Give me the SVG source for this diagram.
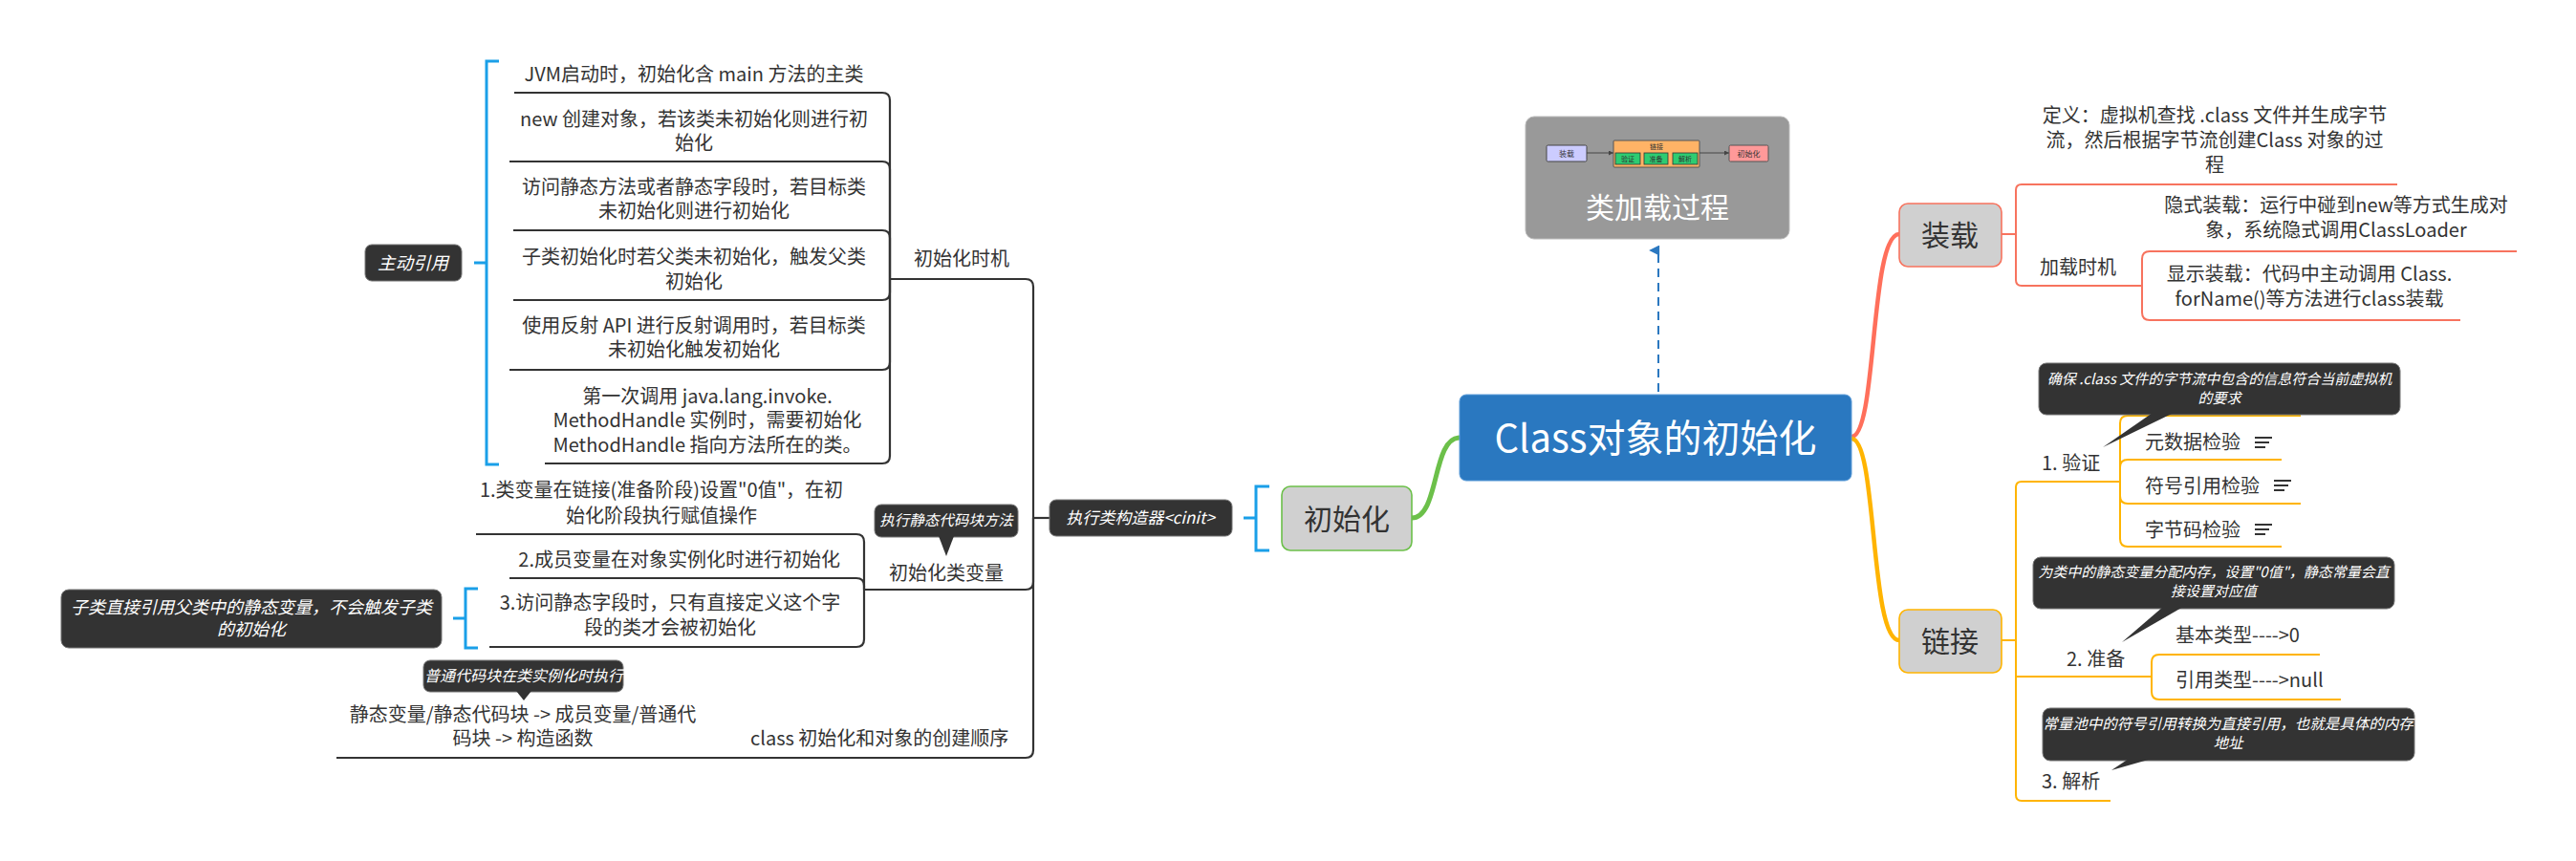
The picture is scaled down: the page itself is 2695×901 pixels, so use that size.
<svg xmlns="http://www.w3.org/2000/svg" width="2695" height="901" viewBox="0 0 2695 901">
<style>
text{font-family:"Noto Sans CJK SC","Noto Sans",sans-serif;fill:#333}
.t20{font-size:20px}
.mid{text-anchor:middle}
.end{text-anchor:end}
.big{font-size:30px;text-anchor:middle}
.tip{fill:#333;stroke:#777;stroke-width:1}
.tipt{fill:#fff;font-style:italic;text-anchor:middle}
.dk{fill:none;stroke:#333;stroke-width:2.2}
.rd{fill:none;stroke:#F7735E;stroke-width:2}
.or{fill:none;stroke:#FFB400;stroke-width:2}
.br{fill:none;stroke:#1A9FE8;stroke-width:3}
.node{fill:#D0D0D0;stroke-width:1.6}
.icon{stroke:#333;stroke-width:2}
.mini{font-size:7px;text-anchor:middle;fill:#333}
</style>
<defs>
<marker id="ah" viewBox="0 0 10 10" refX="5" refY="9" markerWidth="11" markerHeight="13" orient="auto" markerUnits="userSpaceOnUse">
<path d="M0,10 L5,0 L10,10 Z" fill="#2B78C0"/>
</marker>
<marker id="ma" viewBox="0 0 6 6" refX="6" refY="3" markerWidth="5" markerHeight="5" orient="auto" markerUnits="userSpaceOnUse">
<path d="M0,0 L6,3 L0,6 Z" fill="#444"/>
</marker>
</defs>
<rect width="2695" height="901" fill="#fff"/>

<g id="connectors">
<path d="M1527,458 C1498,458 1506,542 1477,542" fill="none" stroke="#6CC04A" stroke-width="5"/>
<path d="M1937,457 C1964,457 1956,245 1987,245" fill="none" stroke="#FF6F5B" stroke-width="4.5"/>
<path d="M1937,459 C1964,459 1956,670 1987,670" fill="none" stroke="#FFB400" stroke-width="4.5"/>
<path d="M1735,410 V262" fill="none" stroke="#2B78C0" stroke-width="2" stroke-dasharray="9 6" marker-end="url(#ah)"/>
<path class="dk" d="M1098,542 H1081"/>
<path class="dk" d="M931,292 H1073 Q1081,292 1081,300 V542"/>
<path class="dk" d="M904,617 H1073 Q1081,617 1081,609 V542"/>
<path class="dk" d="M352,793 H1073 Q1081,793 1081,785 V542"/>
<path class="dk" d="M538,97 H923 Q931,97 931,105 V292"/>
<path class="dk" d="M533,169 H923 Q931,169 931,177 V292"/>
<path class="dk" d="M537,241 H923 Q931,241 931,249 V292"/>
<path class="dk" d="M537,314 H923 Q931,314 931,306 V292"/>
<path class="dk" d="M533,387 H923 Q931,387 931,379 V292"/>
<path class="dk" d="M570,485 H923 Q931,485 931,477 V292"/>
<path class="dk" d="M498,559 H896 Q904,559 904,567 V617"/>
<path class="dk" d="M533,605 H896 Q904,605 904,613 V617"/>
<path class="dk" d="M512,677 H896 Q904,677 904,669 V617"/>
<path class="br" d="M522,64 H509 V486 H522 M496,275 H509"/>
<path class="br" d="M500,616 H487 V678 H500 M474,647 H487"/>
<path class="br" d="M1328,509 H1314 V576 H1328 M1301,542 H1314"/>
<path class="rd" d="M2094,245 H2109 V199 Q2109,193 2115,193 H2508"/>
<path class="rd" d="M2109,245 V293 Q2109,299 2115,299 H2241"/>
<path class="rd" d="M2241,299 V271 Q2241,263 2249,263 H2633"/>
<path class="rd" d="M2241,299 V327 Q2241,335 2249,335 H2574"/>
<path class="or" d="M2094,670 H2109 V510 Q2109,504 2115,504 H2218"/>
<path class="or" d="M2109,670 V832 Q2109,838 2115,838 H2208"/>
<path class="or" d="M2109,708 H2251"/>
<path class="or" d="M2218,504 V443 Q2218,435 2226,435 H2407"/>
<path class="or" d="M2218,504 V489 Q2218,481 2226,481 H2387"/>
<path class="or" d="M2218,504 V519 Q2218,527 2226,527 H2407"/>
<path class="or" d="M2218,504 V564 Q2218,572 2226,572 H2387"/>
<path class="or" d="M2251,708 V693 Q2251,685 2259,685 H2427"/>
<path class="or" d="M2251,708 V724 Q2251,732 2259,732 H2449"/>
</g>

<g id="central">
<rect x="1527" y="413" width="410" height="90" rx="7" fill="#2A78C0" stroke="#5A9BD8" stroke-width="1"/>
<text x="1732" y="473" style="font-size:40px;text-anchor:middle;fill:#fff">Class对象的初始化</text>
</g>

<g id="class-loading-image">
<rect x="1596" y="122" width="276" height="128" rx="9" fill="#999" stroke="#bbb" stroke-width="1"/>
<rect x="1618" y="152" width="42" height="17" rx="1.5" fill="#CCCCFF" stroke="#444" stroke-width="1"/>
<text class="mini" x="1639" y="163.5" style="font-size:8px">装载</text>
<path d="M1660,160 H1688" stroke="#444" stroke-width="1" marker-end="url(#ma)"/>
<rect x="1688" y="147" width="90" height="28" rx="1" fill="#FFB366" stroke="#555" stroke-width="1"/>
<text class="mini" x="1733" y="156">链接</text>
<rect x="1690" y="160" width="26" height="12" fill="#2ECC71" stroke="#333" stroke-width="0.8"/>
<rect x="1720" y="160" width="25" height="12" fill="#2ECC71" stroke="#333" stroke-width="0.8"/>
<rect x="1750" y="160" width="26" height="12" fill="#2ECC71" stroke="#333" stroke-width="0.8"/>
<text class="mini" x="1703" y="169">验证</text>
<text class="mini" x="1732.5" y="169">准备</text>
<text class="mini" x="1763" y="169">解析</text>
<path d="M1778,160 H1809" stroke="#444" stroke-width="1" marker-end="url(#ma)"/>
<rect x="1809" y="152" width="41" height="17" rx="1.5" fill="#FF9999" stroke="#555" stroke-width="1"/>
<text class="mini" x="1829.5" y="163.5" style="font-size:8px">初始化</text>
<text x="1734" y="228" style="font-size:30px;text-anchor:middle;fill:#fff">类加载过程</text>
</g>

<g id="init-node">
<rect class="node" x="1341" y="509" width="136" height="67" rx="9" stroke="#6CC04A"/>
<text class="big" x="1409" y="554">初始化</text>
</g>

<g id="cinit">
<rect class="tip" x="1098" y="523" width="191" height="38" rx="7"/>
<text class="tipt" x="1193" y="548" style="font-size:17px">执行类构造器&lt;cinit&gt;</text>
</g>

<g id="init-timing">
<text class="t20" x="956" y="278">初始化时机</text>
</g>

<g id="active-ref">
<rect class="tip" x="382" y="256" width="101" height="38" rx="7"/>
<text class="tipt" x="432" y="282" style="font-size:18.5px">主动引用</text>
</g>

<g id="t1"><text class="t20 mid" x="726" y="85">JVM启动时，初始化含 main 方法的主类</text></g>
<g id="t2"><text class="t20 mid" x="726" y="132">new 创建对象，若该类未初始化则进行初</text><text class="t20 mid" x="726" y="157">始化</text></g>
<g id="t3"><text class="t20 mid" x="726" y="203">访问静态方法或者静态字段时，若目标类</text><text class="t20 mid" x="726" y="228">未初始化则进行初始化</text></g>
<g id="t4"><text class="t20 mid" x="726" y="276">子类初始化时若父类未初始化，触发父类</text><text class="t20 mid" x="726" y="302">初始化</text></g>
<g id="t5"><text class="t20 mid" x="726" y="348">使用反射 API 进行反射调用时，若目标类</text><text class="t20 mid" x="726" y="373">未初始化触发初始化</text></g>
<g id="t6"><text class="t20 mid" x="740" y="422">第一次调用 java.lang.invoke.</text><text class="t20 mid" x="740" y="447">MethodHandle 实例时，需要初始化</text><text class="t20 mid" x="740" y="473">MethodHandle 指向方法所在的类。</text></g>

<g id="init-var">
<text class="t20" x="930" y="607">初始化类变量</text>
<rect class="tip" x="915" y="528" width="150" height="34" rx="7"/>
<path d="M982,561 L998,561 L990,582 Z" fill="#333"/>
<text class="tipt" x="990" y="550" style="font-size:15.5px">执行静态代码块方法</text>
</g>

<g id="v1"><text class="t20 mid" x="692" y="520">1.类变量在链接(准备阶段)设置"0值"，在初</text><text class="t20 mid" x="692" y="547">始化阶段执行赋值操作</text></g>
<g id="v2"><text class="t20 end" x="879" y="593">2.成员变量在对象实例化时进行初始化</text></g>
<g id="v3"><text class="t20 mid" x="701" y="638">3.访问静态字段时，只有直接定义这个字</text><text class="t20 mid" x="701" y="664">段的类才会被初始化</text></g>

<g id="subclass-note">
<rect class="tip" x="64" y="617" width="398" height="61" rx="8"/>
<text class="tipt" x="263" y="642" style="font-size:18px">子类直接引用父类中的静态变量，不会触发子类</text>
<text class="tipt" x="263" y="665" style="font-size:18px">的初始化</text>
</g>

<g id="order">
<text class="t20" x="785" y="780">class 初始化和对象的创建顺序</text>
</g>

<g id="order-child">
<rect class="tip" x="443" y="691" width="209" height="33" rx="7"/>
<path d="M540,723 L556,723 L548,733 Z" fill="#333"/>
<text class="tipt" x="548" y="713" style="font-size:16px">普通代码块在类实例化时执行</text>
<text class="t20 mid" x="547" y="755">静态变量/静态代码块 -&gt; 成员变量/普通代</text>
<text class="t20 mid" x="547" y="780">码块 -&gt; 构造函数</text>
</g>

<g id="load-node">
<rect class="node" x="1987" y="213" width="107" height="66" rx="9" stroke="#F7735E"/>
<text class="big" x="2040" y="257">装载</text>
</g>
<g id="load-def">
<text class="t20 mid" x="2317" y="128">定义：虚拟机查找 .class 文件并生成字节</text>
<text class="t20 mid" x="2317" y="154">流，然后根据字节流创建Class 对象的过</text>
<text class="t20 mid" x="2317" y="180">程</text>
</g>
<g id="load-timing"><text class="t20" x="2134" y="287">加载时机</text></g>
<g id="implicit">
<text class="t20 mid" x="2444" y="222">隐式装载：运行中碰到new等方式生成对</text>
<text class="t20 mid" x="2444" y="248">象，系统隐式调用ClassLoader</text>
</g>
<g id="explicit">
<text class="t20 mid" x="2416" y="294">显示装载：代码中主动调用 Class.</text>
<text class="t20 mid" x="2416" y="320">forName()等方法进行class装载</text>
</g>

<g id="link-node">
<rect class="node" x="1987" y="638" width="107" height="66" rx="9" stroke="#FFB400"/>
<text class="big" x="2040" y="682">链接</text>
</g>

<g id="verify">
<text class="t20" x="2136" y="492">1. 验证</text>
<rect class="tip" x="2133" y="380" width="378" height="54" rx="8"/>
<path d="M2252,432 L2274,432 L2200,468 Z" fill="#333"/>
<text class="tipt" x="2322" y="402" style="font-size:15px">确保 .class 文件的字节流中包含的信息符合当前虚拟机</text>
<text class="tipt" x="2322" y="422" style="font-size:15px">的要求</text>
</g>
<g id="v-meta"><text class="t20" x="2244" y="470">元数据检验</text><path class="icon" d="M2359,458 H2377 M2359,463 H2374 M2359,468 H2370"/></g>
<g id="v-sym"><text class="t20" x="2244" y="516">符号引用检验</text><path class="icon" d="M2379,503 H2397 M2379,508 H2394 M2379,513 H2390"/></g>
<g id="v-byte"><text class="t20" x="2244" y="562">字节码检验</text><path class="icon" d="M2359,549 H2377 M2359,554 H2374 M2359,559 H2370"/></g>

<g id="prepare">
<text class="t20" x="2162" y="697">2. 准备</text>
<rect class="tip" x="2127" y="583" width="378" height="54" rx="8"/>
<path d="M2263,635 L2284,635 L2220,672 Z" fill="#333"/>
<text class="tipt" x="2316" y="604" style="font-size:15px">为类中的静态变量分配内存，设置"0值"，静态常量会直</text>
<text class="tipt" x="2316" y="624" style="font-size:15px">接设置对应值</text>
</g>
<g id="p-basic"><text class="t20" x="2276" y="672">基本类型----&gt;0</text></g>
<g id="p-ref"><text class="t20" x="2276" y="719">引用类型----&gt;null</text></g>

<g id="resolve">
<text class="t20" x="2136" y="825">3. 解析</text>
<rect class="tip" x="2137" y="741" width="389" height="55" rx="8"/>
<path d="M2227,794 L2251,794 L2209,806 Z" fill="#333"/>
<text class="tipt" x="2331" y="763" style="font-size:15.5px">常量池中的符号引用转换为直接引用，也就是具体的内存</text>
<text class="tipt" x="2331" y="783" style="font-size:15.5px">地址</text>
</g>
</svg>
